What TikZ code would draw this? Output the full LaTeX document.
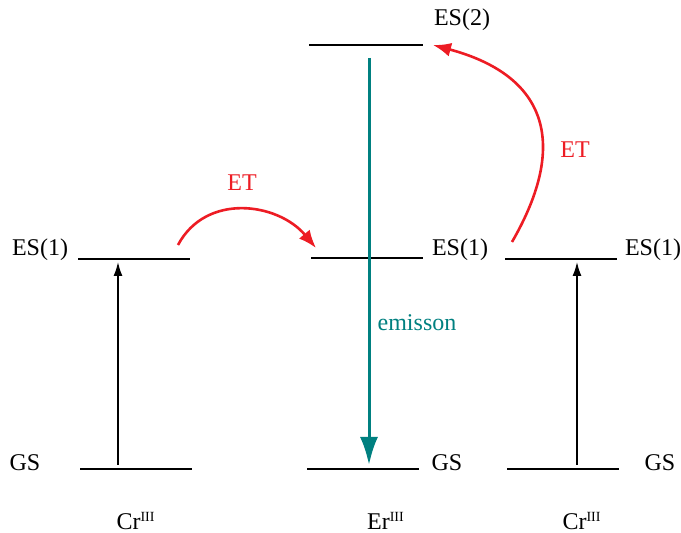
\documentclass[tikz,border=0pt]{standalone}
\usepackage{fontspec}
\setmainfont{Liberation Serif}
\usetikzlibrary{arrows.meta}
\definecolor{etred}{RGB}{237,28,36}
\definecolor{emteal}{RGB}{0,128,128}

\begin{document}
\begin{tikzpicture}[x=0.5pt, y=-0.5pt, every node/.style={font=\fontsize{12}{14}\selectfont, inner sep=0pt},
  level/.style={line width=0.75pt},
  excite/.style={-{Latex[length=7pt,width=4.5pt]}, line width=0.75pt},
  transfer/.style={etred, line width=1.3pt, -{Latex[length=9pt,width=7pt]}},
  emit/.style={emteal, line width=1.5pt, -{Latex[length=14pt,width=9pt]}}]
  \useasboundingbox (0,0) rectangle (681,533);

  % energy levels
  \coordinate (crAes1) at (78,259);  \coordinate (crAes2) at (190,259);
  \coordinate (crAgs1) at (80,469);  \coordinate (crAgs2) at (192,469);
  \coordinate (erES2a) at (309,45);  \coordinate (erES2b) at (423,45);
  \coordinate (erES1a) at (311,258); \coordinate (erES1b) at (423,258);
  \coordinate (erGSa) at (307,469);  \coordinate (erGSb) at (419,469);
  \coordinate (crBes1) at (505,259); \coordinate (crBes2) at (617,259);
  \coordinate (crBgs1) at (507,469); \coordinate (crBgs2) at (619,469);
  \draw[level] (crAes1)--(crAes2);
  \draw[level] (crAgs1)--(crAgs2);
  \draw[level] (erES2a)--(erES2b);
  \draw[level] (erES1a)--(erES1b);
  \draw[level] (erGSa)--(erGSb);
  \draw[level] (crBes1)--(crBes2);
  \draw[level] (crBgs1)--(crBgs2);

  \node (lesA) at (40,250) {ES(1)};
  \node (lgsA) at (25,463) {GS};
  \node (les2) at (462,20) {ES(2)};
  \node (lesE) at (460,250) {ES(1)};
  \node (lgsE) at (447,463) {GS};
  \node (lesB) at (653,250) {ES(1)};
  \node (lgsB) at (660,463) {GS};
  \node (ionA) at (136,521) {Cr\textsuperscript{\scriptsize III}};
  \node (ionE) at (386,521) {Er\textsuperscript{\scriptsize III}};
  \node (ionB) at (582,521) {Cr\textsuperscript{\scriptsize III}};

  % excitation
  \coordinate (upA0) at (118,465); \coordinate (upA1) at (118,262);
  \coordinate (upB0) at (577,465); \coordinate (upB1) at (577,262);
  \draw[excite] (upA0)--(upA1);
  \draw[excite] (upB0)--(upB1);

  % energy transfer
  \coordinate (etA0) at (178,245); \coordinate (etA1) at (316,248);
  \coordinate (etB0) at (512,242); \coordinate (etB1) at (433,45);
  \draw[transfer] (etA0) to[out=62,in=130,looseness=1.1] (etA1);
  \draw[transfer] (etB0) to[out=60,in=-15,looseness=1.4] (etB1);
  \node[text=etred] (etlA) at (242,183) {ET};
  \node[text=etred] (etlB) at (575,150) {ET};

  % emission
  \coordinate (em0) at (369,58); \coordinate (em1) at (369,465);
  \draw[emit] (em0)--(em1);
  \node[text=emteal] (eml) at (417,323) {emisson};
\end{tikzpicture}
\end{document}
